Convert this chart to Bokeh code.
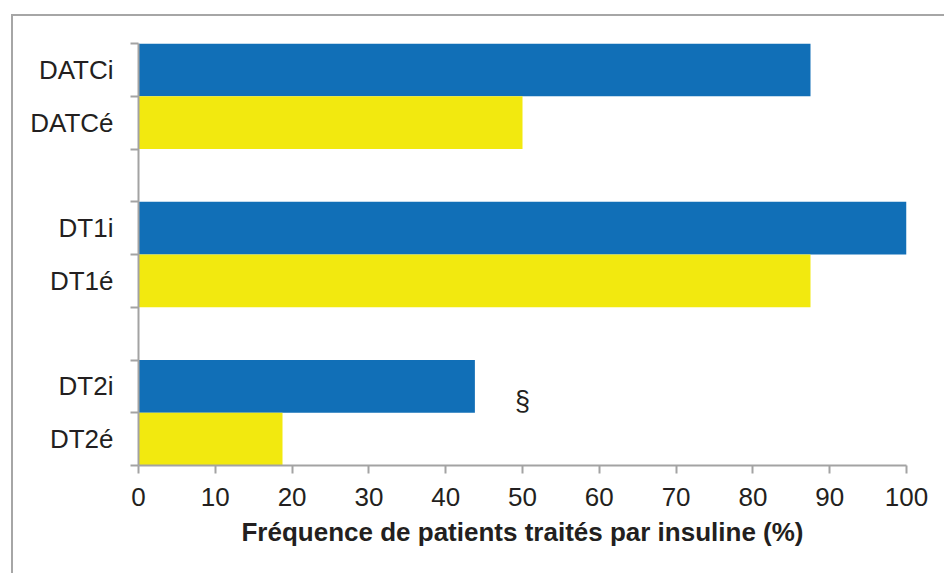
from bokeh.plotting import figure
from bokeh.models import Range1d, FixedTicker, Label
from bokeh.embed import file_html
from bokeh.resources import INLINE

# ---- data ----
groups = ["DATC", "DT1", "DT2"]
labels_i = ["DATCi", "DT1i", "DT2i"]
labels_e = ["DATCé", "DT1é", "DT2é"]
values_i = [87.5, 100, 43.8]
values_e = [50, 87.5, 18.75]
x_ticks = [0, 10, 20, 30, 40, 50, 60, 70, 80, 90, 100]
note_text = "§"
note_x = 50
x_title = "Fréquence de patients traités par insuline (%)"

BLUE = "#116fb7"
YELLOW = "#f2e90f"
GREY = "#a3a3a3"
TXT = "#231f20"
FONT = "Liberation Sans"

n_slots = 3 * len(groups) - 1  # two bars per group + gap between groups

# derived positions (slot centers from top)
ys_i, ys_e, ylabels = [], [], {}
for g in range(len(groups)):
    yi = n_slots - (3 * g) - 0.5
    ye = yi - 1
    ys_i.append(yi)
    ys_e.append(ye)
    ylabels[yi] = labels_i[g]
    ylabels[ye] = labels_e[g]

p = figure(width=933, height=559, output_backend="svg", toolbar_location=None,
           x_range=Range1d(0, 100), y_range=Range1d(0, n_slots),
           min_border_left=125, min_border_right=40, min_border_top=27, min_border_bottom=110)
p.outline_line_color = None
p.grid.visible = False
p.background_fill_color = "white"
p.border_fill_color = "white"

p.hbar(y=ys_i, right=values_i, left=0, height=1, color=BLUE, line_color=None)
p.hbar(y=ys_e, right=values_e, left=0, height=1, color=YELLOW, line_color=None)

# x axis
xa = p.xaxis[0]
xa.ticker = FixedTicker(ticks=x_ticks, minor_ticks=[])
xa.axis_line_color = GREY
xa.axis_line_width = 2
xa.major_tick_line_color = GREY
xa.major_tick_line_width = 2
xa.major_tick_in = 0
xa.major_tick_out = 8
xa.minor_tick_line_color = None
xa.major_label_text_font = FONT
xa.major_label_text_font_size = "26px"
xa.major_label_text_color = TXT
xa.major_label_standoff = 14
xa.axis_label = x_title
xa.axis_label_text_font = FONT
xa.axis_label_text_font_size = "26px"
xa.axis_label_text_font_style = "bold"
xa.axis_label_text_color = TXT
xa.axis_label_standoff = 8

# y axis: labels at slot centers, ticks at slot boundaries
ya = p.yaxis[0]
ya.ticker = FixedTicker(ticks=sorted(ylabels.keys()), minor_ticks=list(range(n_slots + 1)))
ya.major_label_overrides = {k: v for k, v in ylabels.items()}
ya.axis_line_color = GREY
ya.axis_line_width = 2
ya.major_tick_line_color = None
ya.major_tick_in = 0
ya.major_tick_out = 0
ya.minor_tick_line_color = GREY
ya.minor_tick_line_width = 2
ya.minor_tick_in = 0
ya.minor_tick_out = 8
ya.major_label_text_font = FONT
ya.major_label_text_font_size = "26px"
ya.major_label_text_color = TXT
ya.major_label_standoff = 17

# significance marker next to DT2 group
p.add_layout(Label(x=note_x, y=ys_i[2] - 0.27, text=note_text, text_font=FONT,
                   text_font_size="27px", text_color=TXT,
                   text_align="center", text_baseline="middle"))

p.styles = {"border-top": "2px solid #a6a6a6", "border-left": "2px solid #a6a6a6"}
p.margin = (14, 0, 0, 11)

open("out.html", "w").write(file_html(p, INLINE))
